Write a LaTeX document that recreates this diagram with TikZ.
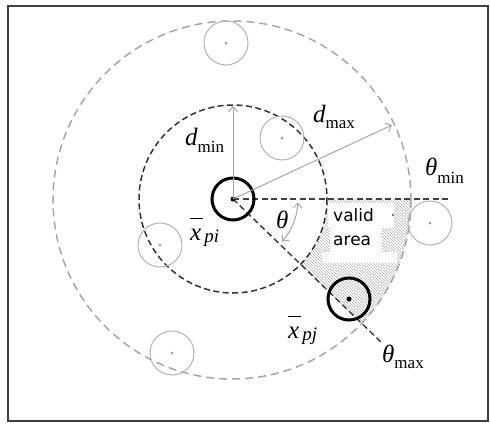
\documentclass[tikz,border=0pt]{standalone}
\usepackage{fontspec}
\setmainfont{Liberation Serif}
\newfontfamily\labelsans{DejaVu Sans}
\usetikzlibrary{arrows.meta,patterns}
\newcommand{\subsz}{\fontsize{17}{17}\selectfont}
\newcommand{\xbar}{\rlap{\raisebox{21pt}{\rule{13pt}{0.9pt}}}x}
\begin{document}
\begin{tikzpicture}[x=1pt,y=-1pt,
  frame/.style={draw=black!75,line width=1.5pt},
  innerring/.style={draw=black!80,line width=1.5pt,dash pattern=on 6pt off 3.5pt},
  outerring/.style={draw=black!35,line width=1.5pt,dash pattern=on 8pt off 5pt},
  guide/.style={draw=black!75,line width=1.5pt,dash pattern=on 6pt off 3.5pt},
  other/.style={circle,draw=black!30,line width=1pt,minimum size=44pt,inner sep=0pt},
  mainpt/.style={circle,draw=black,line width=3pt,minimum size=42pt,inner sep=0pt},
  dotblack/.style={circle,fill=black,inner sep=0pt,minimum size=5pt},
  dotgray/.style={circle,fill=black!40,inner sep=0pt,minimum size=3pt},
  measure/.style={draw=black!35,line width=1pt,-{Straight Barb[length=5pt,width=9pt]}},
  arcmeasure/.style={draw=black!35,line width=1pt,{Straight Barb[length=5pt,width=9pt]}-{Straight Barb[length=5pt,width=9pt]}},
  lbl/.style={inner sep=0pt,anchor=base west,font=\fontsize{25}{25}\selectfont\itshape},
  areatext/.style={inner sep=0pt,font=\labelsans\fontsize{17}{24}\selectfont,align=left},
]
\useasboundingbox (0,0) rectangle (490,424);
\draw[frame] (8,6) rectangle (488,421);
\coordinate (C) at (233,199);
\coordinate (O) at (232,200);
% hatched valid area
\begin{scope}
  \clip (O) circle (179);
  \clip (C) -- +(0:300) -- +(44:300) -- cycle;
  \fill[pattern=north west lines, pattern color=black!30, even odd rule] (C) circle (94) (C) circle (400);
  \fill[white] (328,203) rectangle (394,228);
  \fill[white] (330,228) rectangle (382,252);
  \fill[white] (322,252) rectangle (397,263);
\end{scope}
% rings
\draw[outerring] (O) circle (179);
\draw[innerring] (C) circle (94);
% angle guides
\coordinate (hEnd) at (450,199);
\coordinate (dEnd) at (382,343);
\draw[guide] (C) -- (hEnd);
\draw[guide] (C) -- (dEnd);
% other points
\node[other] (o1) at (226,43) {};
\node[other] (o2) at (282,138) {};
\node[other] (o3) at (160,245) {};
\node[other] (o4) at (430,223) {};
\node[other] (o5) at (172,353) {};
\node[dotgray] (od1) at (o1.center) {};
\node[dotgray] (od2) at (o2.center) {};
\node[dotgray] (od3) at (o3.center) {};
\node[dotgray] (od4) at (o4.center) {};
\node[dotgray] (od5) at (o5.center) {};
% main points
\node[mainpt] (pi) at (C) {};
\node[mainpt] (pj) at (349,299) {};
\node[dotblack] (pid) at (pi.center) {};
\node[dotblack] (pjd) at (pj.center) {};
% measures
\coordinate (dminEnd) at (233,106);
\coordinate (dmaxEnd) at (392,125);
\draw[measure] (pi.center) -- (dminEnd);
\draw[measure] (pi.center) -- (dmaxEnd);
\draw[arcmeasure] ([shift={(3:65)}]C) arc (3:41:65);
% labels
\node[lbl] (ldmin) at (185,145) {d\raisebox{-7pt}{\subsz\upshape min}};
\node[lbl] (ldmax) at (313,122) {d\raisebox{-6pt}{\subsz\upshape max}};
\node[lbl] (ltmin) at (425,175) {θ\raisebox{-8pt}{\subsz\upshape min}};
\node[lbl] (ltmax) at (382,362) {θ\raisebox{-6pt}{\subsz\upshape max}};
\node[lbl] (ltheta) at (276,228) {θ};
\node[lbl] (lxpi) at (190,240) {\xbar\hspace{3pt}\raisebox{-2pt}{\fontsize{19}{19}\selectfont pi}};
\node[lbl] (lxpj) at (288,338) {\xbar\hspace{3pt}\raisebox{-2pt}{\fontsize{19}{19}\selectfont pj}};
\node[areatext,anchor=north west] (valid) at (333,208) {valid\\area};
\node[dotblack,minimum size=1.6pt] (vdot) at (393,215) {};
\end{tikzpicture}
\end{document}
